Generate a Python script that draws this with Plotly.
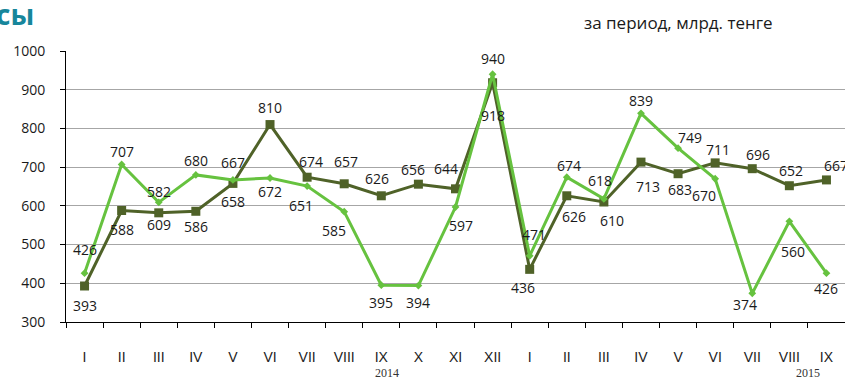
import plotly.graph_objects as go

# Months Jan 2014 .. Sep 2015
months = ["I", "II", "III", "IV", "V", "VI", "VII", "VIII", "IX", "X", "XI", "XII",
          "I", "II", "III", "IV", "V", "VI", "VII", "VIII", "IX"]
years = ["2014", "2015"]

# Monthly values, bn tenge
light_values = [426, 707, 609, 680, 667, 672, 651, 585, 395, 394, 597, 940,
                471, 674, 618, 839, 749, 670, 374, 560, 426]
dark_values = [393, 588, 582, 586, 658, 810, 674, 657, 626, 656, 644, 918,
               436, 626, 610, 713, 683, 711, 696, 652, 667]

# Label offsets (px): positive = above the point, negative = below
light_dy = [24, 13, -22, 14, 17, -14, -19, -19, -17, -17, -18, 16,
            21, 12, 18, 13, 11, -17, -11, -30, -15]
light_dx = [0, 0, 0, 0, 0, 0, -6, -10, 0, 0, 5, 0,
            4, 2, -4, 0, 12, -11, -7, 4, 0]
dark_dy = [-19, -19, 21, -15, -18, 17, 16, 22, 17, 15, 20, -33,
           -18, -21, -19, -24, -16, 13, 14, 15, 14]
dark_dx = [0, 0, 0, 0, 0, 0, 4, 2, -4, -5, -10, 0,
           -7, 7, 8, 7, 2, 3, 6, 2, 10]

LIGHT = "#66c23f"
DARK = "#4f6228"
LABEL_FONT = dict(family="Open Sans", size=14, color="#1a1a1a")

x = list(range(len(months)))

fig = go.Figure()
fig.add_trace(go.Scatter(
    x=x, y=dark_values, mode="lines+markers",
    line=dict(color=DARK, width=3),
    marker=dict(symbol="square", size=9, color=DARK),
    showlegend=False, hoverinfo="skip",
))
fig.add_trace(go.Scatter(
    x=x, y=light_values, mode="lines+markers",
    line=dict(color=LIGHT, width=3),
    marker=dict(symbol="diamond", size=6, color=LIGHT),
    showlegend=False, hoverinfo="skip",
))

annotations = []
for vals, dys, dxs in ((dark_values, dark_dy, dark_dx), (light_values, light_dy, light_dx)):
    for i, v in enumerate(vals):
        annotations.append(dict(
            x=i, y=v, xref="x", yref="y", text=str(v), showarrow=False,
            yshift=dys[i], xshift=dxs[i], font=LABEL_FONT,
        ))

# Year captions under the month axis
year_font = dict(family="Liberation Serif", size=12, color="#333")
annotations.append(dict(x=8.15, y=-0.19, xref="x", yref="paper", text=years[0],
                        xanchor="center", yanchor="middle", showarrow=False, font=year_font))
annotations.append(dict(x=19.5, y=-0.19, xref="x", yref="paper", text=years[1],
                        xanchor="center", yanchor="middle", showarrow=False, font=year_font))

# Heading fragment and units
annotations.append(dict(x=-0.039, y=1.136, xref="paper", yref="paper", text="<b>сы</b>",
                        xanchor="right", yanchor="middle", showarrow=False,
                        font=dict(family="Open Sans", size=28, color="#17869b")))
annotations.append(dict(x=0.786, y=1.107, xref="paper", yref="paper",
                        text="за период, млрд. тенге", showarrow=False,
                        xanchor="center", yanchor="middle",
                        font=dict(family="Open Sans", size=17, color="#1a1a1a")))

fig.update_layout(
    width=845, height=378,
    margin=dict(l=66, r=0, t=51, b=56),
    paper_bgcolor="white", plot_bgcolor="white",
    annotations=annotations,
    xaxis=dict(
        range=[-0.5, len(months) - 0.5],
        tickmode="array", tickvals=x, ticktext=months,
        ticks="", showgrid=False, zeroline=False,
        showline=True, linecolor="#000", linewidth=1,
        tickfont=dict(family="Liberation Sans", size=14, color="#222"),
        ticklabelstandoff=22,
        minor=dict(tickmode="linear", tick0=-0.5, dtick=1, ticks="outside",
                   ticklen=5, tickcolor="#000", tickwidth=1, showgrid=False),
    ),
    yaxis=dict(
        range=[300, 1000], dtick=100,
        ticks="outside", ticklen=5, tickcolor="#000",
        showgrid=True, gridcolor="#a6a6a6", gridwidth=1.3,
        zeroline=False, showline=True, linecolor="#000", linewidth=1,
        tickfont=dict(family="Open Sans", size=14, color="#1a1a1a"),
        ticklabelstandoff=12,
    ),
)

fig.write_html("out.html")
